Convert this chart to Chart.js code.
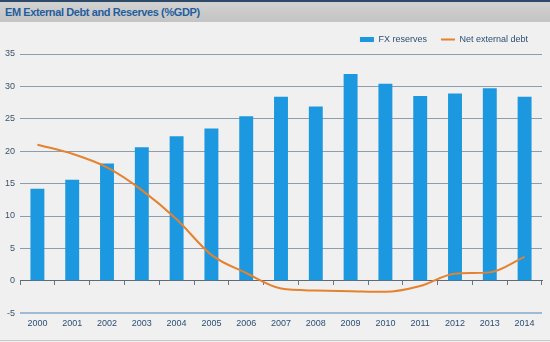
<!DOCTYPE html>
<html lang="en">
<head>
    <meta charset="UTF-8">
    <title>EM External Debt and Reserves</title>
    <script src="https://cdn.jsdelivr.net/npm/chart.js"></script>
    <style>
        html, body { margin: 0; padding: 0; }
        body { width: 550px; height: 342px; background: #f0f0f0; font-family: Arial, "Liberation Sans", sans-serif; overflow: hidden; }
        .title-bar {
            height: 20px;
            border-top: 2px solid #2c4a68;
            background: linear-gradient(#d2d2d2, #c3c3c3);
            color: #1f5e9c;
            font-weight: bold;
            font-size: 11px;
            letter-spacing: -0.4px;
            line-height: 20px;
            padding-left: 5px;
        }
        .chart-box { height: 318px; border-bottom: 1px solid #c8c8c8; }
    </style>
</head>
<body>
    <div class="title-bar">EM External Debt and Reserves (%GDP)</div>
    <div class="chart-box">
        <canvas id="debt-chart" width="550" height="318"></canvas>
    </div>

    <script>
        const years = ["2000", "2001", "2002", "2003", "2004", "2005", "2006", "2007",
                       "2008", "2009", "2010", "2011", "2012", "2013", "2014"];
        const fxReserves = [14.2, 15.6, 18.1, 20.6, 22.3, 23.5, 25.4, 28.4,
                            26.9, 31.9, 30.4, 28.5, 28.9, 29.7, 28.4];
        const netExternalDebt = [21.0, 19.6, 17.5, 14.0, 9.5, 4.0, 1.2, -1.2,
                                 -1.5, -1.6, -1.7, -0.8, 1.1, 1.3, 3.7];
        const yTicks = { min: -5, max: 35, step: 5 };

        const labelColor = "#2d4f73";
        const fontFamily = "Arial, 'Liberation Sans', sans-serif";

        const ctx = document.getElementById("debt-chart").getContext("2d");
        new Chart(ctx, {
            type: "bar",
            data: {
                labels: years,
                datasets: [{
                    label: "FX reserves",
                    data: fxReserves,
                    backgroundColor: "#1b98df",
                    barPercentage: 0.4,
                    categoryPercentage: 1,
                    pointStyle: "rect",
                    order: 2
                }, {
                    type: "line",
                    label: "Net external debt",
                    data: netExternalDebt,
                    borderColor: "#e5812f",
                    backgroundColor: "#e5812f",
                    borderWidth: 2,
                    pointRadius: 0,
                    pointStyle: "line",
                    cubicInterpolationMode: "monotone",
                    order: 1
                }]
            },
            options: {
                responsive: false,
                animation: false,
                layout: { padding: { left: 0, right: 8, top: -1, bottom: 14 } },
                plugins: {
                    tooltip: { enabled: false },
                    legend: {
                        position: "top",
                        align: "end",
                        labels: {
                            usePointStyle: true,
                            pointStyleWidth: 14,
                            boxHeight: 5,
                            padding: 14,
                            color: labelColor,
                            font: { size: 9, family: fontFamily },
                            sort: (a, b) => a.datasetIndex - b.datasetIndex
                        }
                    }
                },
                scales: {
                    x: {
                        offset: true,
                        grid: { display: false },
                        border: { display: false },
                        ticks: {
                            color: labelColor,
                            padding: -3,
                            font: { size: 9, family: fontFamily }
                        }
                    },
                    xZero: {
                        type: "category",
                        position: { y: 0 },
                        offset: true,
                        grid: {
                            offset: true,
                            drawOnChartArea: false,
                            drawTicks: true,
                            tickLength: 4,
                            color: "#6a7580"
                        },
                        border: { display: true, color: "#5f6a75", width: 1 },
                        ticks: { display: false }
                    },
                    y: {
                        min: yTicks.min,
                        max: yTicks.max,
                        border: { display: false },
                        grid: {
                            drawTicks: false,
                            color: (c) => c.tick && c.tick.value === yTicks.min ? "#9fbad2" : "#8d9dad",
                            lineWidth: (c) => c.tick && c.tick.value === yTicks.min ? 2 : 1
                        },
                        ticks: {
                            stepSize: yTicks.step,
                            padding: 5,
                            color: "#3f5266",
                            font: { size: 9, family: fontFamily }
                        }
                    }
                }
            }
        });
    </script>
</body>
</html>
